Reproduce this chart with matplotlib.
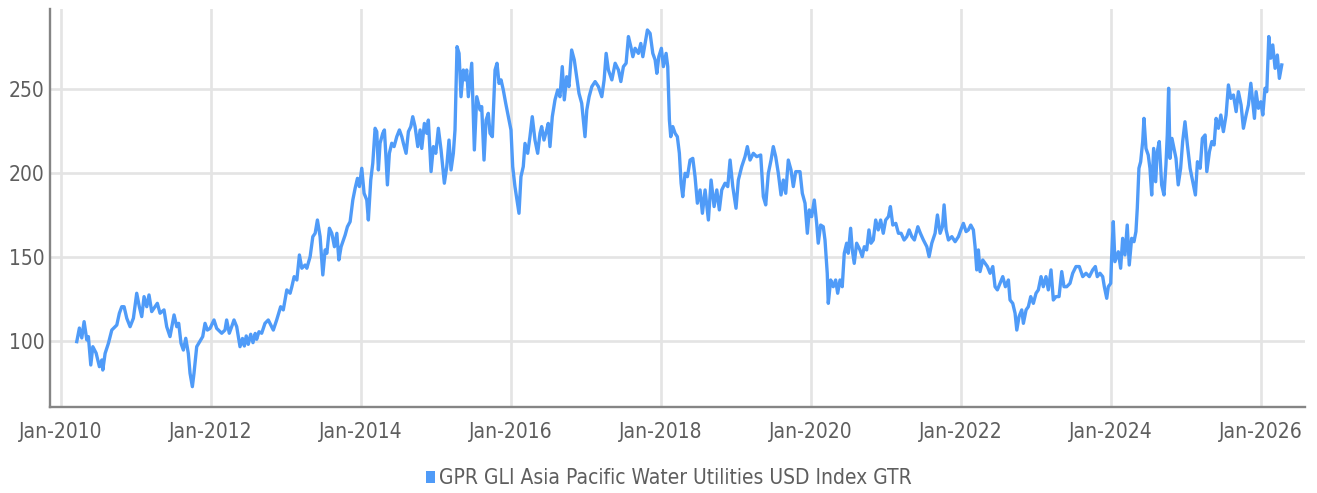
import matplotlib
matplotlib.use("Agg")
import matplotlib.pyplot as plt
import matplotlib.dates as mdates
import matplotlib.font_manager as fm
from matplotlib.patches import Patch
from datetime import datetime, timedelta

# ---------------- data (decimal year, index level) ----------------
series_name = "GPR GLI Asia Pacific Water Utilities USD Index GTR"

t_years = [
    2010.209, 2010.244, 2010.276, 2010.307, 2010.343, 2010.364, 2010.396, 2010.423, 2010.467, 2010.511,
    2010.543, 2010.556, 2010.587, 2010.631, 2010.676, 2010.743, 2010.777, 2010.809, 2010.840, 2010.876,
    2010.920, 2010.964, 2011.009, 2011.044, 2011.076, 2011.107, 2011.143, 2011.173, 2011.209, 2011.253,
    2011.284, 2011.320, 2011.373, 2011.409, 2011.453, 2011.507, 2011.543, 2011.569, 2011.600, 2011.631,
    2011.663, 2011.697, 2011.720, 2011.751, 2011.773, 2011.809, 2011.863, 2011.889, 2011.920, 2011.951,
    2011.987, 2012.040, 2012.076, 2012.143, 2012.187, 2012.209, 2012.244, 2012.276, 2012.307, 2012.343,
    2012.387, 2012.420, 2012.445, 2012.470, 2012.497, 2012.530, 2012.560, 2012.590, 2012.609, 2012.640,
    2012.676, 2012.720, 2012.764, 2012.831, 2012.876, 2012.929,
    2012.964, 2013.009, 2013.053, 2013.076, 2013.107, 2013.143, 2013.177, 2013.209, 2013.253, 2013.276,
    2013.320, 2013.356, 2013.387, 2013.417, 2013.453, 2013.489, 2013.520, 2013.543, 2013.577, 2013.609,
    2013.644, 2013.676, 2013.703, 2013.733, 2013.787, 2013.817, 2013.853, 2013.889, 2013.920, 2013.951,
    2013.977, 2014.009, 2014.040, 2014.076, 2014.097, 2014.129, 2014.156, 2014.187, 2014.209, 2014.231,
    2014.253, 2014.289, 2014.311, 2014.329, 2014.351, 2014.377, 2014.409, 2014.440, 2014.476, 2014.511,
    2014.543, 2014.564, 2014.600, 2014.631, 2014.663, 2014.689, 2014.720, 2014.756, 2014.787, 2014.809,
    2014.844, 2014.876, 2014.897, 2014.933, 2014.964, 2014.996, 2015.031, 2015.067, 2015.111, 2015.143,
    2015.173, 2015.200, 2015.231, 2015.253, 2015.280, 2015.307, 2015.333, 2015.364, 2015.387, 2015.409,
    2015.431, 2015.476, 2015.511, 2015.543, 2015.587, 2015.609, 2015.640, 2015.667, 2015.697, 2015.720,
    2015.751, 2015.787, 2015.813, 2015.840, 2015.867, 2015.897, 2015.929, 2015.964, 2016.000, 2016.023,
    2016.053, 2016.080, 2016.107, 2016.133, 2016.164, 2016.187, 2016.223, 2016.253, 2016.284, 2016.320,
    2016.356, 2016.387, 2016.409, 2016.440, 2016.476, 2016.497, 2016.520, 2016.551, 2016.587, 2016.623,
    2016.653, 2016.684, 2016.711, 2016.743, 2016.773, 2016.809, 2016.844, 2016.876, 2016.907, 2016.943,
    2016.987, 2017.009, 2017.040, 2017.076, 2017.120, 2017.164, 2017.209, 2017.240, 2017.267, 2017.297,
    2017.343, 2017.387, 2017.431, 2017.463, 2017.497, 2017.533, 2017.564, 2017.596, 2017.623, 2017.653,
    2017.697, 2017.729, 2017.756, 2017.787, 2017.817, 2017.853, 2017.889, 2017.920, 2017.943, 2017.969,
    2018.004, 2018.031, 2018.067, 2018.089, 2018.111, 2018.129, 2018.156, 2018.187, 2018.217, 2018.244,
    2018.267, 2018.289, 2018.320, 2018.351, 2018.387, 2018.423, 2018.453, 2018.484, 2018.520, 2018.551,
    2018.587, 2018.631, 2018.667, 2018.707, 2018.743, 2018.777, 2018.809, 2018.853, 2018.889, 2018.920,
    2018.956, 2019.000, 2019.031, 2019.076, 2019.120, 2019.151, 2019.187, 2019.231, 2019.276, 2019.329,
    2019.364, 2019.396, 2019.431, 2019.467, 2019.497, 2019.529, 2019.564, 2019.600, 2019.631, 2019.663,
    2019.697, 2019.733, 2019.764, 2019.796, 2019.853, 2019.884, 2019.920, 2019.951, 2019.977, 2020.009,
    2020.044, 2020.076, 2020.097, 2020.129, 2020.164, 2020.187, 2020.217, 2020.231, 2020.263, 2020.297,
    2020.329, 2020.356, 2020.387, 2020.417, 2020.444, 2020.476, 2020.497, 2020.529, 2020.551, 2020.577,
    2020.609, 2020.653, 2020.684, 2020.711, 2020.743, 2020.773, 2020.800, 2020.831, 2020.863, 2020.897,
    2020.929, 2020.964, 2020.996, 2021.031, 2021.057, 2021.089, 2021.129, 2021.164, 2021.200, 2021.240,
    2021.276, 2021.307, 2021.343, 2021.377, 2021.423, 2021.457, 2021.497, 2021.543, 2021.573, 2021.609,
    2021.653, 2021.684, 2021.720, 2021.751, 2021.773, 2021.800, 2021.831, 2021.876, 2021.920, 2021.964,
    2021.996, 2022.031, 2022.067, 2022.097, 2022.129, 2022.164, 2022.187, 2022.209, 2022.231, 2022.253,
    2022.289, 2022.320, 2022.351, 2022.387, 2022.423, 2022.453, 2022.484, 2022.520, 2022.556, 2022.591,
    2022.631, 2022.653, 2022.689, 2022.720, 2022.743, 2022.773, 2022.809, 2022.831, 2022.867, 2022.897,
    2022.929, 2022.964, 2023.000, 2023.031, 2023.067, 2023.097, 2023.133, 2023.164, 2023.200, 2023.231,
    2023.267, 2023.307, 2023.343, 2023.373, 2023.409, 2023.453, 2023.489, 2023.533, 2023.577, 2023.623,
    2023.667, 2023.711, 2023.756, 2023.791, 2023.817, 2023.853, 2023.889, 2023.911, 2023.943, 2023.964,
    2023.996, 2024.009, 2024.031, 2024.053, 2024.098, 2024.129, 2024.156, 2024.187, 2024.217, 2024.244,
    2024.276, 2024.307, 2024.333, 2024.351, 2024.373, 2024.396, 2024.423, 2024.440, 2024.467, 2024.497,
    2024.520, 2024.543, 2024.569, 2024.596, 2024.617, 2024.644, 2024.676, 2024.707, 2024.733, 2024.751,
    2024.769, 2024.787, 2024.813, 2024.840, 2024.867, 2024.897, 2024.929, 2024.956, 2024.987, 2025.017,
    2025.053, 2025.089, 2025.124, 2025.151, 2025.187, 2025.217, 2025.253, 2025.276, 2025.311, 2025.343,
    2025.373, 2025.400, 2025.431, 2025.463, 2025.497, 2025.533, 2025.564, 2025.596, 2025.631, 2025.667,
    2025.697, 2025.733, 2025.764, 2025.800, 2025.831, 2025.863, 2025.889, 2025.911, 2025.933, 2025.964,
    2025.996, 2026.023, 2026.053, 2026.076, 2026.103, 2026.129, 2026.156, 2026.187, 2026.217, 2026.244,
    2026.276,
]

index_values = [
    99.6, 107.7, 101.8, 111.5, 100.6, 102.6, 85.7, 96.6, 92.8, 84.7,
    88.7, 82.7, 92.6, 98.6, 106.5, 109.5, 116.5, 120.4, 120.4, 113.5,
    108.5, 113.5, 128.4, 120.4, 114.5, 126.4, 120.4, 127.4, 117.5, 120.4,
    122.4, 116.5, 118.5, 108.5, 102.6, 115.5, 108.5, 110.5, 98.6, 94.6,
    101.6, 92.6, 80.8, 72.8, 80.8, 96.6, 100.6, 102.6, 110.5, 106.5,
    107.5, 112.5, 107.5, 104.6, 106.5, 112.5, 104.6, 108.5, 112.5, 108.5,
    96.6, 101.5, 97.0, 103.0, 98.0, 104.0, 99.0, 104.5, 101.0, 105.5,
    104.6, 110.5, 112.5, 106.5, 112.5, 120.4,
    118.5, 130.4, 128.4, 132.3, 138.3, 136.3, 151.2, 143.3, 145.2, 143.3,
    150.2, 162.1, 164.1, 172.0, 162.1, 139.3, 154.2, 152.2, 167.1, 164.1,
    156.1, 164.1, 148.2, 156.1, 163.1, 168.0, 171.0, 183.9, 190.9, 196.8,
    191.9, 202.8, 187.9, 183.9, 172.0, 195.8, 205.8, 226.6, 224.6, 201.8,
    217.7, 223.6, 225.6, 211.7, 192.9, 211.7, 217.7, 215.7, 221.6, 225.6,
    221.6, 217.7, 211.7, 224.6, 227.6, 233.5, 227.6, 215.7, 225.6, 214.6,
    229.5, 223.6, 231.5, 200.8, 215.7, 211.7, 226.6, 213.7, 193.9, 203.8,
    219.6, 201.8, 211.7, 225.6, 275.2, 271.2, 245.4, 261.3, 255.4, 261.3,
    245.4, 265.3, 213.7, 245.4, 237.5, 239.5, 207.7, 231.5, 235.5, 223.6,
    221.6, 261.3, 265.3, 253.3, 255.4, 249.4, 241.5, 233.5, 225.6, 203.8,
    191.9, 183.9, 176.0, 197.8, 203.8, 217.6, 211.7, 221.6, 233.5, 219.6,
    211.7, 223.6, 227.6, 219.6, 225.6, 229.5, 215.7, 233.5, 243.5, 249.4,
    245.4, 263.3, 243.5, 257.3, 251.4, 273.2, 267.3, 257.3, 247.4, 241.5,
    221.6, 237.5, 245.4, 251.4, 254.4, 251.4, 245.4, 255.4, 271.2, 261.3,
    255.4, 265.3, 261.3, 254.4, 263.3, 265.3, 281.2, 275.2, 269.2, 274.2,
    271.2, 277.1, 269.2, 277.1, 285.1, 283.1, 271.2, 267.3, 259.3, 269.2,
    274.2, 263.3, 271.2, 263.3, 231.5, 221.6, 227.6, 223.6, 221.6, 211.7,
    193.9, 185.9, 199.8, 197.8, 207.7, 208.7, 197.8, 182.0, 189.9, 176.0,
    189.9, 172.0, 195.8, 180.0, 189.9, 178.0, 189.9, 193.9, 191.9, 207.7,
    191.9, 179.0, 195.8, 203.8, 209.7, 215.7, 207.7, 211.7, 209.7, 210.7,
    185.9, 181.0, 199.8, 207.7, 215.7, 209.7, 199.8, 186.9, 195.8, 187.9,
    207.7, 201.8, 191.9, 200.8, 200.8, 187.9, 182.0, 164.1, 178.0, 174.0,
    183.9, 170.0, 158.2, 169.0, 168.0, 160.1, 140.3, 122.4, 136.3, 132.3,
    136.3, 128.4, 136.3, 132.3, 152.2, 158.2, 152.2, 167.1, 154.2, 146.2,
    158.2, 154.2, 150.2, 156.1, 154.2, 166.1, 158.2, 160.1, 172.0, 166.1,
    172.0, 164.1, 172.0, 174.0, 180.0, 169.0, 170.0, 164.1, 164.1, 160.1,
    162.1, 166.1, 162.1, 160.1, 168.0, 164.1, 160.1, 156.1, 150.2, 158.2,
    164.1, 175.0, 164.1, 168.0, 181.0, 166.1, 160.1, 162.1, 159.1, 162.1,
    166.1, 170.0, 165.1, 166.1, 169.0, 166.1, 156.1, 142.3, 154.2, 141.3,
    148.2, 146.2, 144.3, 140.3, 144.3, 132.3, 130.4, 134.3, 138.3, 132.3,
    136.3, 124.4, 122.4, 116.5, 106.5, 114.5, 118.5, 110.5, 118.5, 120.4,
    126.4, 122.4, 128.4, 130.4, 138.3, 132.3, 138.3, 130.4, 142.3, 124.4,
    126.4, 126.4, 141.3, 132.3, 132.3, 134.3, 140.3, 144.3, 144.3, 138.3,
    140.3, 138.3, 142.3, 144.3, 138.3, 140.3, 138.3, 132.3, 125.4, 132.3,
    134.3, 150.0, 171.0, 147.2, 153.1, 143.3, 161.1, 151.2, 169.0, 145.2,
    161.1, 159.1, 165.1, 179.0, 202.8, 206.7, 218.7, 232.5, 214.6, 210.7,
    202.8, 186.9, 214.6, 194.8, 212.7, 218.7, 192.9, 186.9, 204.8, 222.6,
    250.4, 208.7, 220.6, 214.6, 208.7, 192.9, 202.8, 218.7, 230.5, 216.7,
    202.8, 194.8, 186.9, 206.7, 202.8, 220.6, 222.6, 200.8, 212.7, 218.7,
    216.7, 232.5, 226.6, 234.5, 224.6, 234.5, 252.4, 244.4, 246.4, 236.5,
    248.4, 240.5, 226.6, 234.5, 240.5, 253.4, 242.4, 232.5, 248.4, 238.5,
    242.4, 234.5, 250.4, 248.4, 281.2, 268.3, 276.2, 262.3, 270.2, 256.3,
    264.3,
]

y_ticks = [100, 150, 200, 250]


def to_datetime(t):
    y = int(t)
    return datetime(y, 1, 1) + timedelta(days=(t - y) * 365.25)


dates = [to_datetime(t) for t in t_years]

# ---------------- fonts ----------------
font_names = {f.name for f in fm.fontManager.ttflist}
if "Liberation Sans Narrow" in font_names:
    FAMILY, FS = "Liberation Sans Narrow", 18
elif any(f.name == "DejaVu Sans" and f.stretch == "condensed" for f in fm.fontManager.ttflist):
    FAMILY, FS = "DejaVu Sans", 15
else:
    FAMILY, FS = "Roboto", 15
plt.rcParams["font.family"] = [FAMILY, "DejaVu Sans"]
if FAMILY == "DejaVu Sans":
    plt.rcParams["font.stretch"] = "condensed"

TEXT_COLOR = "#5e5e5e"
LINE_COLOR = "#4f9bf8"
GRID_COLOR = "#e4e4e4"
SPINE_COLOR = "#858585"

# ---------------- figure ----------------
fig = plt.figure(figsize=(13.17, 4.93), dpi=100)
ax = fig.add_axes([50 / 1317, 1 - 407 / 493, (1305 - 50) / 1317, (407 - 9) / 493])

ax.plot(dates, index_values, color=LINE_COLOR, lw=2.4, solid_joinstyle="round", zorder=3)

ax.set_xlim(datetime(2009, 11, 8), datetime(2026, 8, 3))
ax.set_ylim(60.7, 297.6)

ax.xaxis.set_major_locator(mdates.YearLocator(2))
ax.xaxis.set_major_formatter(mdates.DateFormatter("%b-%Y"))
ax.set_yticks(y_ticks)

ax.grid(True, color=GRID_COLOR, lw=1.9, zorder=0)
ax.set_axisbelow(True)

for side in ("top", "right"):
    ax.spines[side].set_visible(False)
for side in ("left", "bottom"):
    ax.spines[side].set_color(SPINE_COLOR)
    ax.spines[side].set_linewidth(1.7)

ax.tick_params(axis="both", length=0, labelsize=FS, labelcolor=TEXT_COLOR)
ax.tick_params(axis="x", pad=11)
ax.tick_params(axis="y", pad=4)

handle = Patch(facecolor=LINE_COLOR, edgecolor="none", label=series_name)
fig.legend(handles=[handle], loc="center", bbox_to_anchor=(0.508, 0.03),
           frameon=False, fontsize=FS, labelcolor=TEXT_COLOR,
           handlelength=0.42, handleheight=0.55, handletextpad=0.2, borderpad=0.0)

fig.savefig("out.png", dpi=100)
